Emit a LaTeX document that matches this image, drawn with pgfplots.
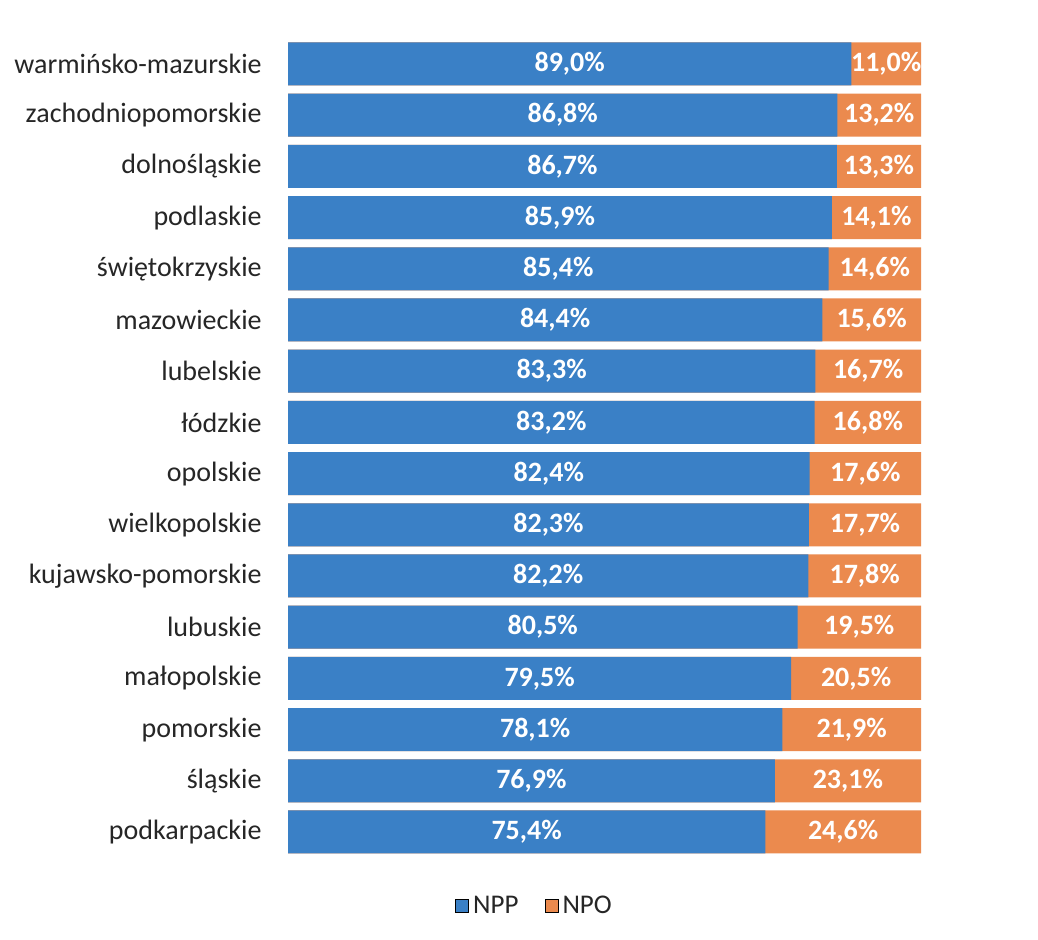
\documentclass[border=0pt]{standalone}
\usepackage{pgfplots}
\pgfplotsset{compat=1.18}
\usepackage{pgfplotstable}
\usepackage{fontspec}
\setmainfont{Carlito}
\definecolor{nppblue}{HTML}{3A80C6}
\definecolor{npoorange}{HTML}{EB8A4E}
\definecolor{labelgray}{HTML}{262626}

% wojewodztwa, od dolu (0) do gory (15)
\pgfplotstableread{
idx npp npo
0 75.4 24.6
1 76.9 23.1
2 78.1 21.9
3 79.5 20.5
4 80.5 19.5
5 82.2 17.8
6 82.3 17.7
7 82.4 17.6
8 83.2 16.8
9 83.3 16.7
10 84.4 15.6
11 85.4 14.6
12 85.9 14.1
13 86.7 13.3
14 86.8 13.2
15 89.0 11.0
}\datatable

\begin{document}
\begin{tikzpicture}
\useasboundingbox[fill=white] (0,0) rectangle (519pt,470pt);
\begin{axis}[
    at={(144pt,41.2pt)}, anchor=south west,
    scale only axis,
    width=316.5pt, height=409.6pt,
    xbar, bar width=21.5pt, bar shift=0pt,
    xmin=0, xmax=100,
    ymin=-0.5, ymax=15.5,
    hide x axis,
    y axis line style={draw=none},
    ytick={0,...,15},
    yticklabels={podkarpackie,śląskie,pomorskie,małopolskie,lubuskie,kujawsko-pomorskie,wielkopolskie,opolskie,łódzkie,lubelskie,mazowieckie,świętokrzyskie,podlaskie,dolnośląskie,zachodniopomorskie,warmińsko-mazurskie},
    yticklabel style={font=\fontsize{14}{16}\selectfont, text=labelgray, anchor=east, inner sep=0pt},
    y tick label style={xshift=-13pt},
    major tick length=0pt,
    /pgf/number format/assume math mode=true,
    nodes near coords={\pgfmathprintnumber[fixed,fixed zerofill,precision=1,use comma]{\pgfplotspointmeta}\%},
    every node near coord/.append style={anchor=center, text=white, font=\fontsize{14}{16}\selectfont\bfseries},
    legend style={at={(0.391,-0.059)}, anchor=center, draw=none, fill=none,
        legend columns=2, font=\fontsize{13.5}{15}\selectfont, text=labelgray,
        /tikz/every even column/.append style={column sep=11pt}},
    legend image code/.code={\fill[#1] (0pt,-3.3pt) rectangle (6.6pt,3.3pt);},
]
\addlegendimage{fill=nppblue}
\addlegendentry{NPP}
\addlegendimage{fill=npoorange}
\addlegendentry{NPO}
% pomaranczowy pasek do 100%, niebieski na wierzchu
\addplot[fill=npoorange, draw=none, nodes near coords={}, forget plot]
    table[x expr=\thisrow{npp}+\thisrow{npo}, y=idx] {\datatable};
\addplot[fill=nppblue, draw=none, nodes near coords={}, forget plot]
    table[x=npp, y=idx] {\datatable};
% etykiety w srodku segmentow
\addplot[draw=none, mark=none, forget plot, bar width=0pt, point meta=explicit]
    table[x expr=\thisrow{npp}/2, y=idx, meta=npp] {\datatable};
\addplot[draw=none, mark=none, forget plot, bar width=0pt, point meta=explicit]
    table[x expr=\thisrow{npp}+\thisrow{npo}/2, y=idx, meta=npo] {\datatable};
\end{axis}
\end{tikzpicture}
\end{document}
